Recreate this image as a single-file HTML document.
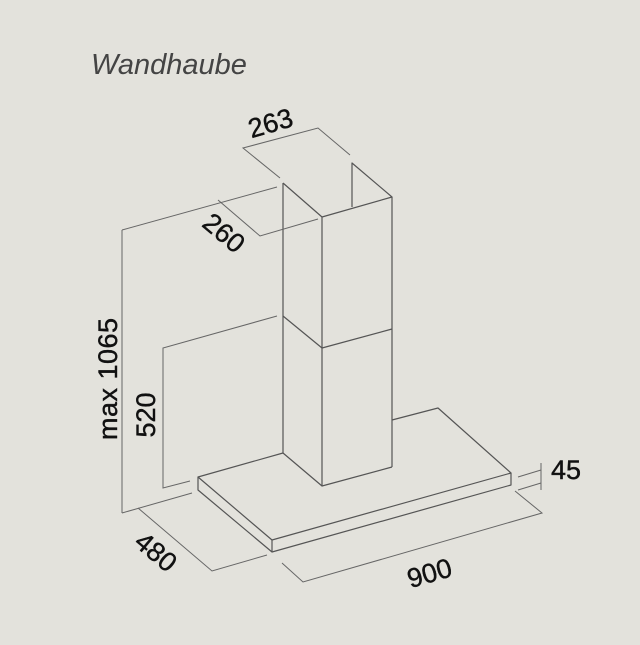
<!DOCTYPE html>
<html><head><style>html,body{margin:0;padding:0;background:#e3e2dc;}</style></head>
<body>
<svg width="640" height="640" viewBox="0 0 640 640" xmlns="http://www.w3.org/2000/svg">
<rect width="640" height="640" fill="#e3e2dc"/>
<text x="91" y="74" font-family="Liberation Sans, sans-serif" font-style="italic" font-size="29" fill="#444">Wandhaube</text>
<g stroke="#555" stroke-width="1.2" fill="none" stroke-linejoin="round">
<polyline points="283,183 283,453"/>
<polyline points="322,217 322,486"/>
<polyline points="392,197 392,467"/>
<polyline points="283,183 322,217 392,197 352,163 352,207"/>
<polyline points="283,316 322,348 392,329"/>
<polyline points="283,453 322,486 392,467"/>
<polyline points="283,453 198,477 272,540 511,473 438,408 392,420"/>
<polyline points="198,477 198,490 272,552 511,485 511,473"/>
<line x1="272" y1="540" x2="272" y2="552"/>
</g>
<g stroke="#666" stroke-width="1" fill="none">
<polyline points="280,178 243,148 318,128 350,155"/>
<line x1="122" y1="230" x2="277" y2="187"/>
<polyline points="218,200 260,236 318,219"/>
<line x1="122" y1="230" x2="122" y2="513"/>
<line x1="122" y1="513" x2="192" y2="493"/>
<polyline points="277,316 163,348 163,488 190,481"/>
<polyline points="138,508 212,571 267,555"/>
<polyline points="282,563 303,582 542,513 515,491"/>
<line x1="518" y1="477" x2="541" y2="470"/>
<line x1="518" y1="490" x2="541" y2="483"/>
<line x1="541" y1="463" x2="541" y2="490"/>
</g>
<g font-family="Liberation Sans, sans-serif" font-size="27" fill="#111" text-anchor="middle" stroke="#111" stroke-width="0.4">
<text transform="translate(273,132) rotate(-16)">263</text>
<text transform="translate(218,240) rotate(40)">260</text>
<text transform="translate(117,379) rotate(-90)" textLength="122">max 1065</text>
<text transform="translate(155,415) rotate(-90)">520</text>
<text transform="translate(150,559) rotate(40)">480</text>
<text transform="translate(432,582) rotate(-16)">900</text>
<text x="566" y="479">45</text>
</g>
</svg>
</body></html>
